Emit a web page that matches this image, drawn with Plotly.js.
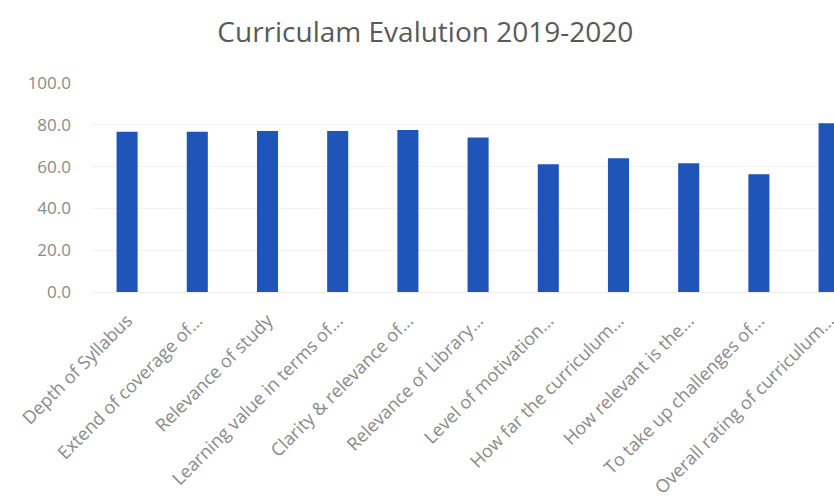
<!DOCTYPE html>
<html>
<head>
<meta charset="utf-8">
<script src="https://cdn.plot.ly/plotly-3.0.1.min.js"></script>
<style>html,body{margin:0;padding:0;background:#fff;}#chart{width:834px;height:502px;}</style>
</head>
<body>
<div id="chart"></div>
<script>
const categories = [
  "Depth of Syllabus",
  "Extend of coverage of...",
  "Relevance of study",
  "Learning value in terms of...",
  "Clarity & relevance of...",
  "Relevance of Library...",
  "Level of motivation...",
  "How far the curriculum...",
  "How relevant is the...",
  "To take up challenges of...",
  "Overall rating of curriculum..."
];
const scores = [76.7, 76.7, 77.0, 77.0, 77.5, 73.9, 61.1, 64.0, 61.6, 56.3, 80.8];
const yTickValues = [0, 20, 40, 60, 80, 100];

const trace = {
  type: "bar",
  x: categories,
  y: scores,
  marker: {color: "#1f55b8"},
  width: 0.3,
  hoverinfo: "x+y"
};

const layout = {
  width: 834,
  height: 502,
  margin: {l: 92, r: 0, t: 83, b: 210, pad: 0},
  paper_bgcolor: "#ffffff",
  plot_bgcolor: "#ffffff",
  title: {
    text: "Curriculam Evalution 2019-2020",
    font: {family: "Open Sans, sans-serif", size: 28, color: "#595959"},
    x: 0.51,
    xanchor: "center",
    y: 0.935,
    yanchor: "middle"
  },
  showlegend: false,
  xaxis: {
    type: "category",
    range: [-0.5, 10.07],
    tickangle: -45,
    showgrid: false,
    showline: true,
    linecolor: "#eeeeee",
    linewidth: 1,
    ticks: "",
    ticklabelstandoff: 10,
    tickfont: {family: "Open Sans, sans-serif", size: 18, color: "#8a8a8a"},
    fixedrange: true
  },
  yaxis: {
    range: [0, 100],
    tickvals: yTickValues,
    tickformat: ".1f",
    showgrid: true,
    gridcolor: "#f2f2f2",
    gridwidth: 1,
    zeroline: false,
    showline: false,
    ticks: "",
    ticklabelstandoff: 20,
    tickfont: {family: "Open Sans, sans-serif", size: 17, color: "#8a8a8a"},
    fixedrange: true
  }
};

Plotly.newPlot("chart", [trace], layout, {displayModeBar: false, staticPlot: true});
</script>
</body>
</html>
